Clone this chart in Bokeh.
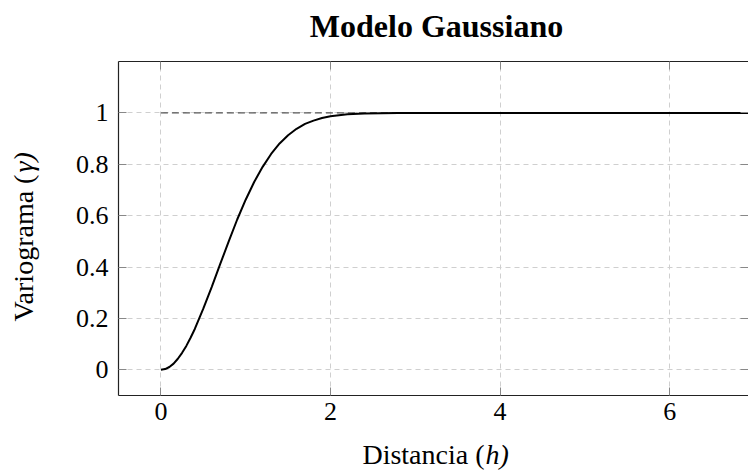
from bokeh.plotting import figure
from bokeh.models import Label, LinearAxis, FixedTicker, Range1d
from bokeh.embed import file_html
from bokeh.resources import INLINE
import math

# ---- data ----
h_vals = [0, 0.05, 0.1, 0.15, 0.2, 0.25, 0.3, 0.35, 0.4, 0.5, 0.6, 0.7, 0.8,
          0.9, 1.0, 1.1, 1.2, 1.3, 1.4, 1.5, 1.6, 1.7, 1.8, 1.9, 2.0, 2.2,
          2.4, 2.6, 2.8, 3.0, 4.0, 5.0, 6.0, 7.0]
gamma_vals = [0, 0.003, 0.011, 0.024, 0.043, 0.066, 0.093, 0.125, 0.159,
              0.238, 0.323, 0.412, 0.500, 0.585, 0.662, 0.731, 0.790, 0.840,
              0.881, 0.913, 0.938, 0.957, 0.970, 0.980, 0.987, 0.995, 0.998,
              0.999, 1.0, 1.0, 1.0, 1.0, 1.0, 1.0]
sill_h = [0, 7]
sill_gamma = [1, 1]
x_ticks = [0, 2, 4, 6]
y_ticks = [0, 0.2, 0.4, 0.6, 0.8, 1]
title_text = "Modelo Gaussiano"

# ---- layout ----
W, H = 748, 471
FL, FR, FT, FB = 118, 748, 61, 395
XMIN, XMAX = -0.5, 6.93
YMIN, YMAX = -0.1, 1.2

def px2x(px):
    return XMIN + (px - FL) / (FR - FL) * (XMAX - XMIN)

def px2y(py):
    return YMIN + (FB - py) / (FB - FT) * (YMAX - YMIN)

SERIF = "Liberation Serif"

p = figure(width=W, height=H, output_backend="svg", toolbar_location=None,
           x_range=Range1d(XMIN, XMAX), y_range=Range1d(YMIN, YMAX),
           min_border_left=FL, min_border_right=W - FR,
           min_border_top=FT, min_border_bottom=H - FB)
p.outline_line_color = None
p.background_fill_color = "white"
p.border_fill_color = "white"

# grid
for g in (p.xgrid, p.ygrid):
    g.grid_line_color = "#cfcfcf"
    g.grid_line_dash = "5 4"
    g.grid_line_width = 1

p.xaxis.ticker = FixedTicker(ticks=x_ticks)
p.yaxis.ticker = FixedTicker(ticks=y_ticks)
p.yaxis.major_label_overrides = {0: "0", 1: "1"}

for ax in (p.xaxis, p.yaxis):
    ax.axis_line_color = "#222222"
    ax.axis_line_width = 1.2
    ax.major_tick_in = 8
    ax.major_tick_out = 0
    ax.major_tick_line_color = "#888888"
    ax.minor_tick_line_color = None
    ax.major_label_text_font = SERIF
    ax.major_label_text_font_size = "26px"
    ax.major_label_text_color = "black"
p.xaxis.major_label_standoff = 7
p.yaxis.major_label_standoff = 10

# mirrored ticks (top / right), drawn as label-less minor ticks
top = LinearAxis(ticker=FixedTicker(ticks=[], minor_ticks=x_ticks))
top.axis_line_color = "#222222"
top.axis_line_width = 1.2
top.major_tick_line_color = None
top.minor_tick_in = 8
top.minor_tick_out = 0
top.minor_tick_line_color = "#888888"
top.major_label_standoff = 0
p.add_layout(top, "above")

right = LinearAxis(ticker=FixedTicker(ticks=[], minor_ticks=y_ticks))
right.axis_line_color = None
right.major_tick_line_color = None
right.minor_tick_in = 8
right.minor_tick_out = 0
right.minor_tick_line_color = "#888888"
right.major_label_standoff = 0
p.add_layout(right, "right")

# sill
p.line(sill_h, sill_gamma, line_color="#555555", line_width=1.2, line_dash="7 4")
# model curve
p.line(h_vals, gamma_vals, line_color="black", line_width=2)

def lab(panel, px, py, text, size, style="normal", align="left", angle=0):
    p.add_layout(Label(x=px2x(px), y=px2y(py), text=text, text_font=SERIF,
                       text_font_size=size, text_font_style=style,
                       text_color="black", text_align=align,
                       text_baseline="alphabetic", angle=angle), panel)

# title
lab("above", 436, 25, title_text, "32px", style="bold", align="center")

# x label: Distancia (h)
lab("below", 484, 454, "Distancia (", "28px", align="right")
lab("left", 485, 454, "h)", "28px", style="italic")

# y label: Variograma (γ), rotated
ang = math.pi / 2
lab("left", 23, 321, "Variograma (", "28px", angle=ang)
lab("above", 23, 172, "γ)", "28px", style="italic", angle=ang)

open("out.html", "w").write(file_html(p, INLINE))
